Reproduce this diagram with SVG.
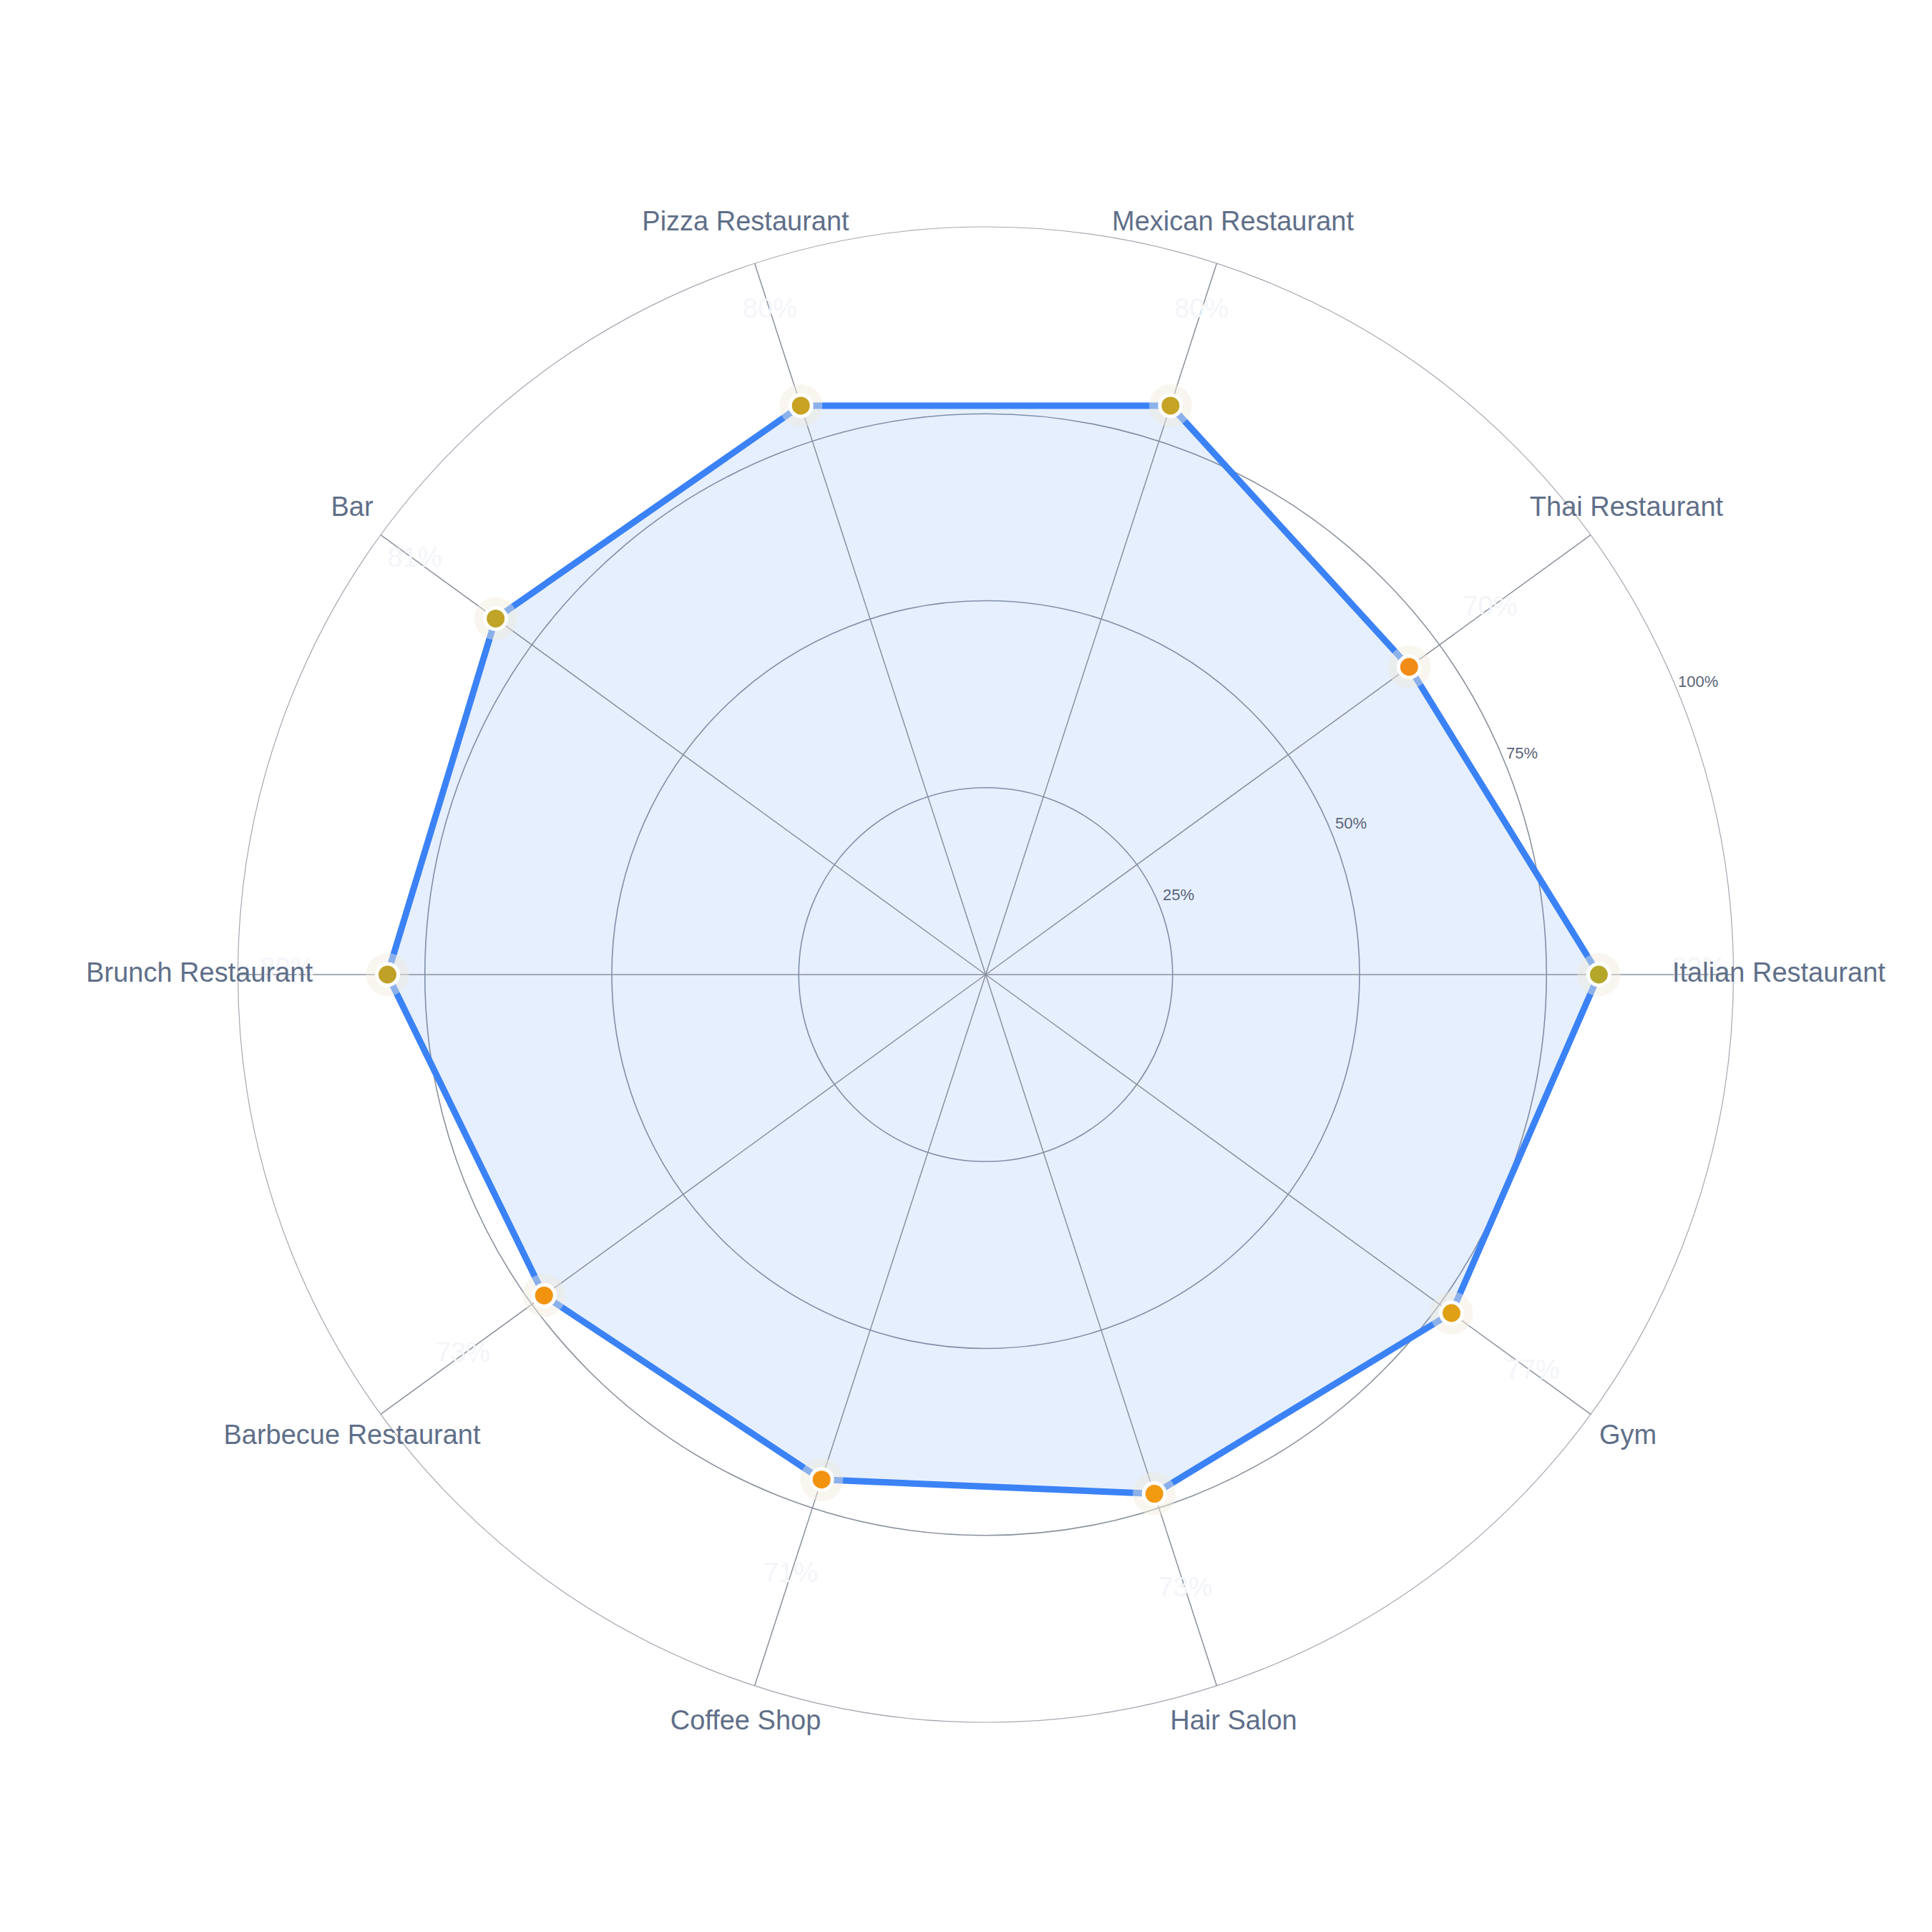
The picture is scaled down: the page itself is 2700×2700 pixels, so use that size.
<svg xmlns="http://www.w3.org/2000/svg" width="2700" height="2700" viewBox="0 0 2700 2700">
<style>
.grid{fill:none;stroke:#8a919c;stroke-width:1.6}
.outer{fill:none;stroke:#a3a8b0;stroke-width:1.2}
.spoke{stroke:#8a919c;stroke-width:1.5}
.tick{font-family:"Liberation Sans",Arial,sans-serif;font-size:22px;fill:#5a6478}
.cat{font-family:"Liberation Sans",Arial,sans-serif;font-size:38px;fill:#5f6f89;dominant-baseline:middle}
.val{font-family:"Liberation Sans",Arial,sans-serif;font-size:38px;fill:#f3f5f9;text-anchor:middle;dominant-baseline:middle}
.halo{fill:#efeadb;opacity:0.45}
.dot{stroke:#ffffff;stroke-width:5}
</style>
<rect width="2700" height="2700" fill="#ffffff"/>
<g id="grid">
<circle class="grid" cx="1377.5" cy="1362" r="261.25"/>
<circle class="grid" cx="1377.5" cy="1362" r="522.5"/>
<circle class="grid" cx="1377.5" cy="1362" r="783.75"/>
<circle class="outer" cx="1377.5" cy="1362" r="1045"/>
</g>
<g id="area">
<polygon points="2234.4,1362 1969.3,932 1635.8,566.9 1119.2,566.9 692.7,864.4 541.5,1362 760.3,1810.4 1148.2,2067.7 1613.2,2087.6 2028.5,1835" fill="#3b82f6" fill-opacity="0.13" stroke="none"/>
</g>
<g id="connectors">
<line class="spoke" x1="1377.5" y1="1362" x2="2422.5" y2="1362"/>
<line class="spoke" x1="1377.5" y1="1362" x2="2222.9" y2="747.7"/>
<line class="spoke" x1="1377.5" y1="1362" x2="1700.4" y2="368.1"/>
<line class="spoke" x1="1377.5" y1="1362" x2="1054.6" y2="368.1"/>
<line class="spoke" x1="1377.5" y1="1362" x2="532.1" y2="747.7"/>
<line class="spoke" x1="1377.5" y1="1362" x2="332.5" y2="1362"/>
<line class="spoke" x1="1377.5" y1="1362" x2="532.1" y2="1976.3"/>
<line class="spoke" x1="1377.5" y1="1362" x2="1054.6" y2="2355.9"/>
<line class="spoke" x1="1377.5" y1="1362" x2="1700.4" y2="2355.9"/>
<line class="spoke" x1="1377.5" y1="1362" x2="2222.9" y2="1976.3"/>
<polygon points="2234.4,1362 1969.3,932 1635.8,566.9 1119.2,566.9 692.7,864.4 541.5,1362 760.3,1810.4 1148.2,2067.7 1613.2,2087.6 2028.5,1835" fill="none" stroke="#3b82f6" stroke-width="9" stroke-linejoin="round"/>
</g>
<g id="ticks">
<text class="tick" x="1625" y="1258">25%</text>
<text class="tick" x="1866" y="1158">50%</text>
<text class="tick" x="2105" y="1060">75%</text>
<text class="tick" x="2345" y="960">100%</text>
</g>
<g id="n-italian"><circle class="halo" cx="2234.4" cy="1362" r="30"/><circle class="dot" cx="2234.4" cy="1362" r="15" fill="#b5a72a"/><text class="val" x="2374.5" y="1355">82%</text><text class="cat" x="2337" y="1362">Italian Restaurant</text></g>
<g id="n-thai"><circle class="halo" cx="1969.3" cy="932" r="30"/><circle class="dot" cx="1969.3" cy="932" r="15" fill="#f28c18"/><text class="val" x="2082.5" y="849.7">70%</text><text class="cat" x="2273" y="711" text-anchor="middle">Thai Restaurant</text></g>
<g id="n-mexican"><circle class="halo" cx="1635.8" cy="566.9" r="30"/><circle class="dot" cx="1635.8" cy="566.9" r="15" fill="#c5a325"/><text class="val" x="1679.1" y="433.7">80%</text><text class="cat" x="1723" y="312" text-anchor="middle">Mexican Restaurant</text></g>
<g id="n-pizza"><circle class="halo" cx="1119.2" cy="566.9" r="30"/><circle class="dot" cx="1119.2" cy="566.9" r="15" fill="#c8a222"/><text class="val" x="1075.9" y="433.7">80%</text><text class="cat" x="1042" y="312" text-anchor="middle">Pizza Restaurant</text></g>
<g id="n-bar"><circle class="halo" cx="692.7" cy="864.4" r="30"/><circle class="dot" cx="692.7" cy="864.4" r="15" fill="#c0a428"/><text class="val" x="579.4" y="782.1">81%</text><text class="cat" x="492" y="711" text-anchor="middle">Bar</text></g>
<g id="n-brunch"><circle class="halo" cx="541.5" cy="1362" r="30"/><circle class="dot" cx="541.5" cy="1362" r="15" fill="#c0a128"/><text class="val" x="401.5" y="1355">80%</text><text class="cat" x="437" y="1362" text-anchor="end">Brunch Restaurant</text></g>
<g id="n-barbecue"><circle class="halo" cx="760.3" cy="1810.4" r="30"/><circle class="dot" cx="760.3" cy="1810.4" r="15" fill="#f29310"/><text class="val" x="647" y="1892.7">73%</text><text class="cat" x="492" y="2008" text-anchor="middle">Barbecue Restaurant</text></g>
<g id="n-coffee"><circle class="halo" cx="1148.2" cy="2067.7" r="30"/><circle class="dot" cx="1148.2" cy="2067.7" r="15" fill="#f29310"/><text class="val" x="1105" y="2200.9">71%</text><text class="cat" x="1042" y="2407" text-anchor="middle">Coffee Shop</text></g>
<g id="n-hair"><circle class="halo" cx="1613.2" cy="2087.6" r="30"/><circle class="dot" cx="1613.2" cy="2087.6" r="15" fill="#f29a10"/><text class="val" x="1656.5" y="2220.8">73%</text><text class="cat" x="1724" y="2407" text-anchor="middle">Hair Salon</text></g>
<g id="n-gym"><circle class="halo" cx="2028.5" cy="1835" r="30"/><circle class="dot" cx="2028.5" cy="1835" r="15" fill="#e0a015"/><text class="val" x="2141.8" y="1917.3">77%</text><text class="cat" x="2275" y="2008" text-anchor="middle">Gym</text></g>
</svg>
